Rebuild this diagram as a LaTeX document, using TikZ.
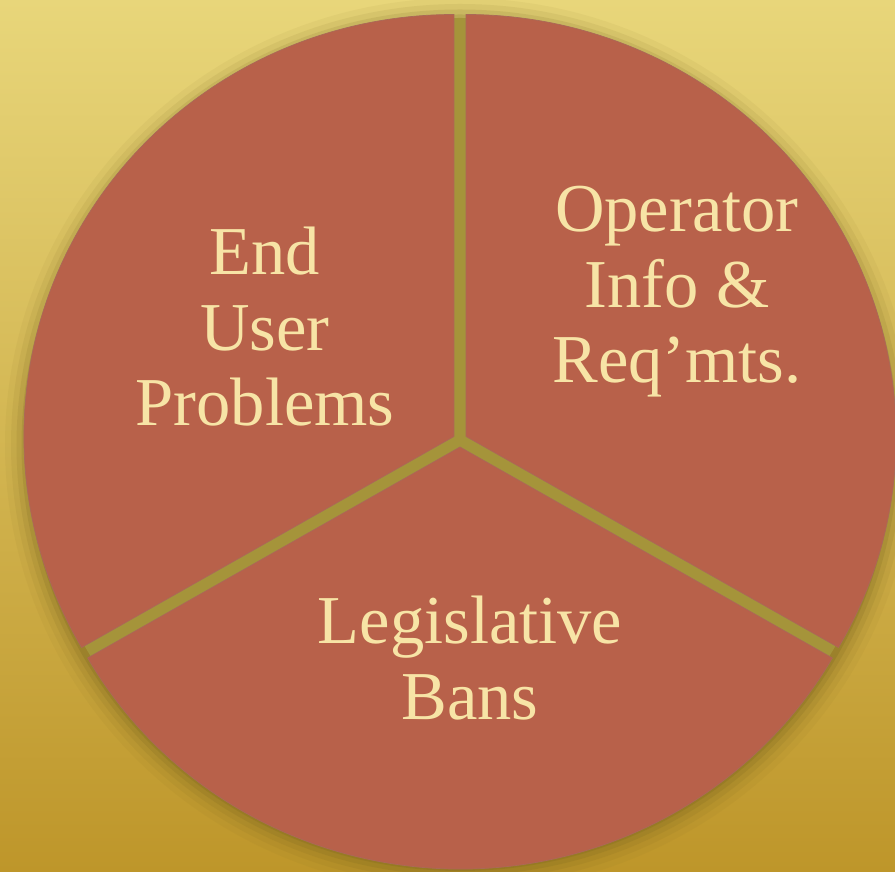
\documentclass[tikz,border=0pt]{standalone}
\usepackage{fontspec}
\setmainfont{Liberation Serif}
\usetikzlibrary{calc}
\definecolor{brick}{RGB}{184,97,74}
\definecolor{cream}{RGB}{247,228,166}
\definecolor{goldTop}{RGB}{232,214,122}
\definecolor{goldBottom}{RGB}{190,150,42}
\definecolor{olive}{RGB}{165,148,58}
\definecolor{shadowOlive}{RGB}{120,100,30}

\begin{document}
\begin{tikzpicture}
[sliceDecorate/.style={fill=brick,draw=brick!75!gray,line width=0.4pt},
 labelDecorate/.style={text=cream,align=center,inner sep=0pt,font=\fontsize{39}{43}\selectfont}]

\shade[top color=goldTop,bottom color=goldBottom] (0,0) rectangle (17.9,17.44);
\useasboundingbox (0,0) rectangle (17.9,17.44);
\coordinate (C) at (9.2,8.64);

% soft shadow round the pie
\foreach \grow/\op in {0.5/0.06,0.38/0.09,0.27/0.13,0.17/0.18,0.08/0.25}
{
  \fill[shadowOlive,opacity=\op] ($(C)+(0,-0.1)$) ellipse [x radius={8.6cm+\grow cm},y radius={8.44cm+\grow cm}];
}
\fill[olive] (C) ellipse [x radius=8.6cm,y radius=8.44cm];

% the three slices, pulled apart a little
\foreach \slicename/\a/\b/\mid in {
left/90/210/150,
right/-30/90/30,
bottom/210/330/270
}
{
  \path[sliceDecorate] ($(C)+(\mid:0.14)$) -- ++(\a:8.6cm and 8.44cm)
    arc[start angle=\a,end angle=\b,x radius=8.6cm,y radius=8.44cm] -- cycle;
}

\node[labelDecorate] (endUser) at (5.3,10.9) {End\\User\\Problems};
\node[labelDecorate] (operator) at (13.54,11.6) {Operator\\Info \&\\Req’mts.};
\node[labelDecorate] (legislative) at (9.4,4.28) {Legislative\\Bans};
\end{tikzpicture}
\end{document}
